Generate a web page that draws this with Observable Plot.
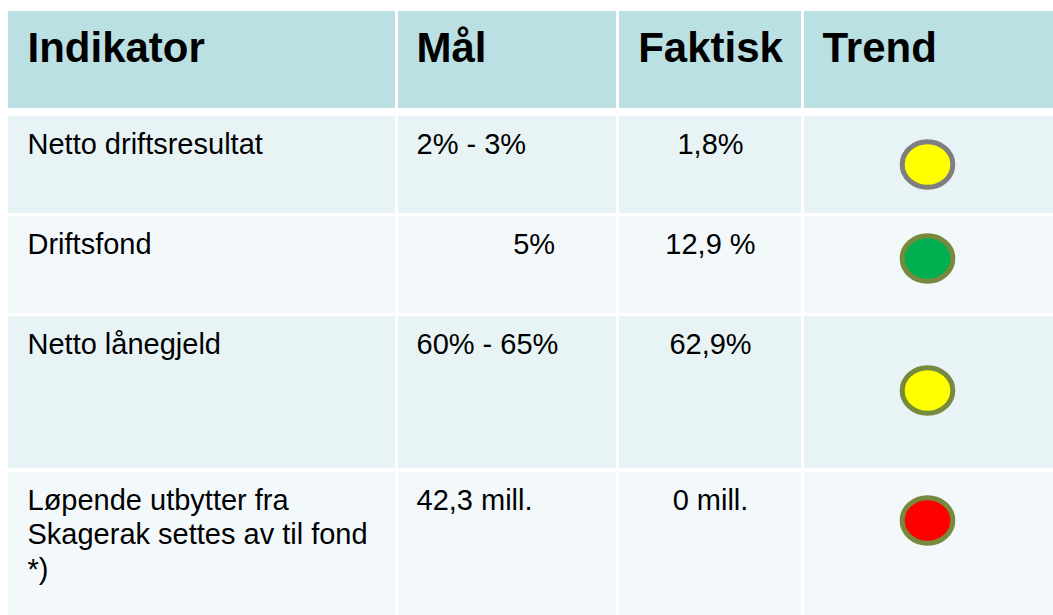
<!DOCTYPE html>
<html>
<head>
<meta charset="utf-8">
<script src="https://cdn.jsdelivr.net/npm/d3@7"></script>
<script src="https://cdn.jsdelivr.net/npm/@observablehq/plot@0.6"></script>
<style>
  html, body { margin: 0; padding: 0; background: #ffffff; }
  #chart svg { display: block; }
</style>
</head>
<body>
<div id="chart"></div>
<script>
// ---- data ----
const headers   = ["Indikator", "Mål", "Faktisk", "Trend"];
const indikator = ["Netto driftsresultat", "Driftsfond", "Netto lånegjeld",
                   "Løpende utbytter fra\nSkagerak settes av til fond\n*)"];
const maal      = ["2% - 3%", "\u00a0\u00a0\u00a0\u00a0\u00a0\u00a0\u00a0\u00a0\u00a0\u00a0\u00a0\u00a05%", "60% - 65%", "42,3 mill."];
const faktisk   = ["1,8%", "12,9 %", "62,9%", "0 mill."];
const trend     = ["gul", "grønn", "gul", "rød"];

// ---- layout / style (kept apart from the data) ----
const W = 1053, H = 615;
const cols = [[8, 395], [398, 616], [619, 801], [804, 1060]];
const headRow = [11, 108];
const rows = [[116, 213], [216, 313], [316, 468], [472, 640]];
const dotOffset = [48, 42, 74, 48];
const textPad = [19, 18, null, 18];
const headFill = "#bbe0e3";
const rowFill = ["#e8f3f5", "#f3f8fb"];
const trendFill = {"gul": "#ffff00", "grønn": "#00b050", "rød": "#ff0000"};
const trendStroke = ["#7f7f7f", "#77893d", "#77893d", "#77893d"];
const font = "'Liberation Sans', Arial, sans-serif";
const bodySize = 29, headSize = 42, lh = 1.2;
const headBase = 61, bodyBase = 37;

// cells
const cells = [];
cols.forEach(c => cells.push({x1: c[0], x2: c[1], y1: headRow[0], y2: headRow[1], fill: headFill}));
rows.forEach((r, i) => cols.forEach(c =>
  cells.push({x1: c[0], x2: c[1], y1: r[0], y2: r[1], fill: rowFill[i % 2]})));

const colX = j => textPad[j] == null ? (cols[j][0] + cols[j][1]) / 2 : cols[j][0] + textPad[j];
const anchorOf = j => textPad[j] == null ? "middle" : "start";

const headText = headers.map((h, j) => ({label: h, x: colX(j), anchor: anchorOf(j)}));
const bodyText = [];
indikator.forEach((v, i) => {
  const y = rows[i][0] + bodyBase - 0.71 * lh * bodySize;
  bodyText.push({label: v, x: colX(0), y, anchor: anchorOf(0)});
  bodyText.push({label: maal[i], x: colX(1), y, anchor: anchorOf(1)});
  bodyText.push({label: faktisk[i], x: colX(2), y, anchor: anchorOf(2)});
});
const dots = trend.map((t, i) => ({
  x: (cols[3][0] + 1050) / 2,
  y: rows[i][0] + dotOffset[i],
  fill: trendFill[t],
  stroke: trendStroke[i]
}));

// elliptical symbol
const ellipse = {
  draw(ctx, size) {
    const r = Math.sqrt(size / Math.PI);
    const rx = r * 1.11, ry = r, k = 0.5522848;
    ctx.moveTo(rx, 0);
    ctx.bezierCurveTo(rx, ry * k, rx * k, ry, 0, ry);
    ctx.bezierCurveTo(-rx * k, ry, -rx, ry * k, -rx, 0);
    ctx.bezierCurveTo(-rx, -ry * k, -rx * k, -ry, 0, -ry);
    ctx.bezierCurveTo(rx * k, -ry, rx, -ry * k, rx, 0);
    ctx.closePath();
  }
};

const textMarks = [];
for (const a of ["start", "middle"]) {
  textMarks.push(Plot.text(headText.filter(d => d.anchor === a), {
    x: "x", y: () => headBase - 0.71 * headSize, text: "label", textAnchor: a,
    lineAnchor: "top", fontSize: headSize, fontWeight: "bold", fill: "#000000"
  }));
  textMarks.push(Plot.text(bodyText.filter(d => d.anchor === a), {
    x: "x", y: "y", text: "label", textAnchor: a, lineAnchor: "top",
    lineHeight: lh, fontSize: bodySize, fill: "#000000"
  }));
}

const chart = Plot.plot({
  width: W,
  height: H,
  margin: 0,
  x: {type: "identity"},
  y: {type: "identity"},
  color: {type: "identity"},
  style: {fontFamily: font, background: "#ffffff", color: "#000000"},
  marks: [
    Plot.rect(cells, {x1: "x1", x2: "x2", y1: "y1", y2: "y2", fill: "fill"}),
    ...textMarks,
    Plot.dot(dots, {
      x: "x", y: "y", r: 22.8, symbol: ellipse, fill: "fill", stroke: "stroke", strokeWidth: 5
    })
  ]
});
document.getElementById("chart").appendChild(chart);
</script>
</body>
</html>
